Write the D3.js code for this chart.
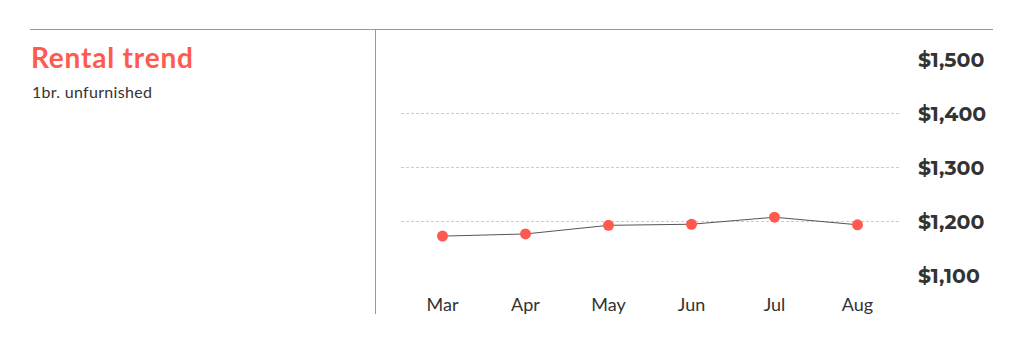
<!DOCTYPE html>
<html><head><meta charset="utf-8">
<script src="https://cdn.jsdelivr.net/npm/d3@7"></script>
<style>body{margin:0;background:#fff;} svg{display:block;}</style>
</head><body>
<svg id="c" width="1024" height="344"></svg>
<script>
const months = ["Mar","Apr","May","Jun","Jul","Aug"];
const rents = [1172, 1176, 1192, 1194, 1207, 1193];
const yTicks = [1100, 1200, 1300, 1400, 1500];
const title = "Rental trend";
const subtitle = "1br. unfurnished";

const svg = d3.select("#c");
const x = d3.scaleBand().domain(months).range([401, 899]).padding(0);
const y = d3.scaleLinear().domain([1100, 1500]).range([275, 59]);

svg.append("line").attr("x1",30).attr("x2",993).attr("y1",29.5).attr("y2",29.5).attr("stroke","#999").attr("stroke-width",1);
svg.append("line").attr("x1",375.5).attr("x2",375.5).attr("y1",29).attr("y2",314).attr("stroke","#999").attr("stroke-width",1);

svg.append("text").attr("x",31).attr("y",68).text(title)
  .attr("font-family","Lato, sans-serif").attr("font-weight",700).attr("font-size",28)
  .attr("letter-spacing",0.8).attr("fill","#ff5a50");
svg.append("text").attr("x",32).attr("y",98).text(subtitle)
  .attr("font-family","Lato, sans-serif").attr("font-size",16).attr("letter-spacing",0.3).attr("fill","#333");

// grid
const grid = svg.append("g").attr("class","grid");
grid.selectAll("line").data(yTicks.filter(v=>v>1100 && v<1500)).join("line")
  .attr("x1",401).attr("x2",899).attr("y1",d=>Math.round(y(d))+0.5).attr("y2",d=>Math.round(y(d))+0.5)
  .attr("stroke","#ccc").attr("stroke-dasharray","3,2").attr("stroke-width",1);

// y axis labels
const yAxis = d3.axisRight(y).tickValues(yTicks).tickSize(0).tickPadding(0)
  .tickFormat(d=>"$"+d3.format(",")(d));
const ya = svg.append("g").attr("transform","translate(918,0)").call(yAxis);
ya.select(".domain").remove();
ya.selectAll("text").attr("font-family","Montserrat, 'Open Sans', sans-serif").attr("font-weight",700)
  .attr("font-size",20.5).attr("fill","#333").attr("dy","0.35em");

// x axis labels
const xAxis = d3.axisBottom(x).tickSize(0).tickPadding(0);
const xa = svg.append("g").attr("transform","translate(0,298)").call(xAxis);
xa.select(".domain").remove();
xa.selectAll("text").attr("font-family","Lato, sans-serif").attr("font-size",18).attr("fill","#333").attr("dy","0.71em");

const cx = d => x(d) + x.bandwidth()/2;
const line = d3.line().x((d,i)=>cx(months[i])).y(d=>y(d));
svg.append("path").datum(rents).attr("d",line).attr("fill","none").attr("stroke","#555").attr("stroke-width",1);
svg.selectAll("circle.pt").data(rents).join("circle").attr("class","pt")
  .attr("cx",(d,i)=>cx(months[i])).attr("cy",d=>y(d)).attr("r",5.5).attr("fill","#ff5a50");
</script>
</body></html>
